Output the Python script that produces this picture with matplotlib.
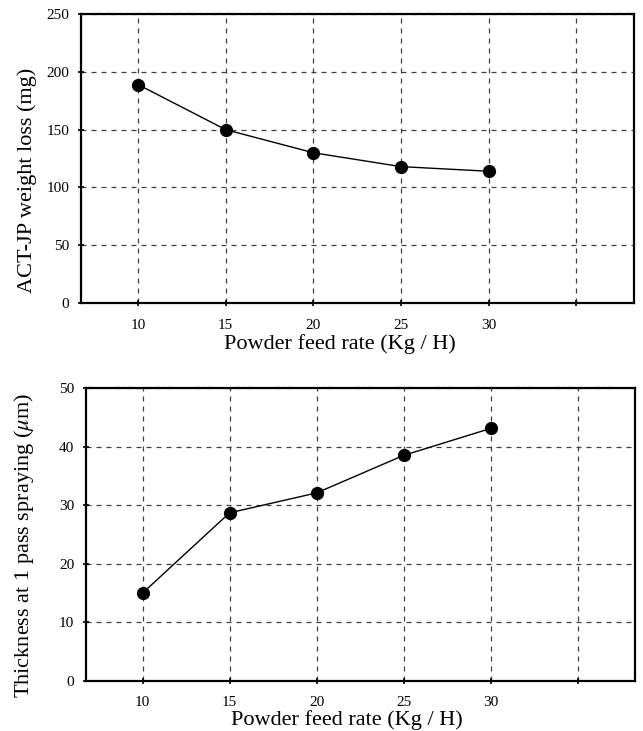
import matplotlib
matplotlib.use('Agg')
import matplotlib.pyplot as plt

# 
# data
# 
feed_rate = [10, 15, 20, 25, 30]
weight_loss = [189, 150, 130, 118, 114]
thickness = [15.0, 28.7, 32.1, 38.5, 43.1]

x_ticks = [10, 15, 20, 25, 30, 35]
x_tick_labels = ['10', '15', '20', '25', '30', '']
y_ticks_top = [0, 50, 100, 150, 200, 250]
y_ticks_bottom = [0, 10, 20, 30, 40, 50]

plt.rcParams['font.family'] = ['Liberation Serif', 'DejaVu Serif']
plt.rcParams['mathtext.fontset'] = 'stix'

fig = plt.figure(figsize=(6.43, 7.31), dpi=100)
ax1 = fig.add_axes([0.126, 0.5855, 0.860, 0.3953])
ax2 = fig.add_axes([0.1337, 0.0684, 0.854, 0.4008])


def style_axes(ax, yticks, ylim, ylabel, xlab_pos, ylab_pos, tick_pad):
    ax.set_xlim(6.75, 38.3)
    ax.set_ylim(*ylim)
    ax.set_xticks(x_ticks)
    ax.set_xticklabels(x_tick_labels)
    ax.set_yticks(yticks)
    ax.grid(True, color='0.25', linestyle=(0, (4, 4)), linewidth=0.9)
    ax.set_axisbelow(True)
    for s in ax.spines.values():
        s.set_linewidth(1.6)
        s.set_color('black')
    ax.tick_params(direction='inout', length=5, width=1.2, labelsize=11)
    ax.tick_params(axis='x', pad=tick_pad)
    ax.tick_params(axis='y', pad=6)
    ax.set_xlabel('Powder feed rate (Kg / H)', fontsize=16, va='center')
    ax.set_ylabel(ylabel, fontsize=16, va='center')
    ax.xaxis.set_label_coords(*xlab_pos)
    ax.yaxis.set_label_coords(*ylab_pos)


ax1.plot(feed_rate, weight_loss, color='black', lw=1.0, marker='o', ms=8.5, zorder=5, clip_on=False)
style_axes(ax1, y_ticks_top, (0, 250), 'ACT-JP weight loss (mg)',
           (0.468, -0.142), (-0.098, 0.426), 9)

ax2.plot(feed_rate, thickness, color='black', lw=1.0, marker='o', ms=8.5, zorder=5, clip_on=False)
style_axes(ax2, y_ticks_bottom, (0, 50), r'Thickness at 1 pass spraying ($\mu$m)',
           (0.475, -0.133), (-0.113, 0.464), 8)

fig.savefig('out.png', dpi=100)
